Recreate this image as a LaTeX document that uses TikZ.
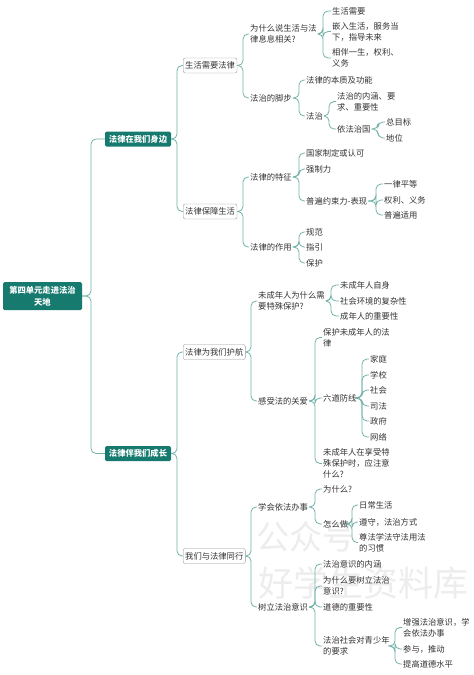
\documentclass[tikz,border=0pt]{standalone}
\usepackage{fontspec}
\setmainfont{Noto Sans CJK SC}
\usetikzlibrary{calc}
\definecolor{teal1}{HTML}{167A6F}
\definecolor{connc}{HTML}{72B2A9}
\definecolor{txt}{HTML}{333333}
\newcommand\lnk[3]{\draw[conn] let \p1=(#1.east) in (\p1) -- (#2pt,\y1) |- (#3.west);}
\begin{document}
\begin{tikzpicture}[x=1pt,y=-1pt,
  every node/.style={font=\fontsize{8.3}{11}\selectfont, text=txt},
  rootbox/.style={fill=teal1, text=white, font=\fontsize{8.3}{12}\selectfont\bfseries, rounded corners=1.5, align=center, minimum width=79, minimum height=28, inner sep=2},
  lone/.style={fill=teal1, text=white, font=\fontsize{8.3}{11}\selectfont\bfseries, rounded corners=1.5, minimum width=66, minimum height=15, inner sep=2},
  ltwo/.style={draw=black!40, fill=white, rounded corners=2, anchor=west, minimum height=15, inner sep=2},
  leaf/.style={anchor=west, inner sep=1, align=left},
  conn/.style={draw=connc, line width=0.8, rounded corners=5},
  wmark/.style={text=black!7, inner sep=0}]
\useasboundingbox (0,0) rectangle (474,675);
\fill[white] (0,0) rectangle (474,675);
% watermark
\node[wmark, font=\fontsize{33}{33}\selectfont] (wm1) at (306,537) {公众号};
\node[wmark, font=\fontsize{35}{35}\selectfont] (wm2) at (363,583) {好学生资料库};
% root and level 1
\node[rootbox] (root) at (42.5,296) {第四单元走进法治\\天地};
\node[lone] (a) at (138,139) {法律在我们身边};
\node[lone] (b) at (138,453.5) {法律伴我们成长};
% level 2
\node[ltwo] (a1) at (183,65.5) {生活需要法律};
\node[ltwo] (a2) at (183,211.5) {法律保障生活};
\node[ltwo] (b1) at (183,352) {法律为我们护航};
\node[ltwo] (b2) at (183,556) {我们与法律同行};
% under a1
\node[leaf] (a11) at (249,34) {为什么说生活与法\\律息息相关?};
\node[leaf] (a12) at (249,98) {法治的脚步};
\node[leaf] (a111) at (331,11) {生活需要};
\node[leaf] (a112) at (331,31.5) {嵌入生活，服务当\\下，指导未来};
\node[leaf] (a113) at (331,58) {相伴一生，权利、\\义务};
\node[leaf] (a121) at (305,80) {法律的本质及功能};
\node[leaf] (a122) at (305,116) {法治};
\node[leaf] (a1221) at (336,101.5) {法治的内涵、要\\求、重要性};
\node[leaf] (a1222) at (336,129) {依法治国};
\node[leaf] (a12221) at (385,122) {总目标};
\node[leaf] (a12222) at (385,138) {地位};
% under a2
\node[leaf] (a21) at (249,177) {法律的特征};
\node[leaf] (a22) at (249,247) {法律的作用};
\node[leaf] (a211) at (305,153) {国家制定或认可};
\node[leaf] (a212) at (305,169) {强制力};
\node[leaf] (a213) at (305,201) {普遍约束力-表现};
\node[leaf] (a2131) at (383,184) {一律平等};
\node[leaf] (a2132) at (383,200) {权利、义务};
\node[leaf] (a2133) at (383,215) {普遍适用};
\node[leaf] (a221) at (305,232) {规范};
\node[leaf] (a222) at (305,247) {指引};
\node[leaf] (a223) at (305,263) {保护};
% under b1
\node[leaf] (b11) at (257,301) {未成年人为什么需\\要特殊保护?};
\node[leaf] (b12) at (257,401) {感受法的关爱};
\node[leaf] (b111) at (339,285) {未成年人自身};
\node[leaf] (b112) at (339,301) {社会环境的复杂性};
\node[leaf] (b113) at (339,316) {成年人的重要性};
\node[leaf] (b121) at (322,337.5) {保护未成年人的法\\律};
\node[leaf] (b122) at (322,398) {六道防线};
\node[leaf] (b123) at (322,463.5) {未成年人在享受特\\殊保护时，应注意\\什么?};
\node[leaf] (b1221) at (369,359) {家庭};
\node[leaf] (b1222) at (369,375) {学校};
\node[leaf] (b1223) at (369,390) {社会};
\node[leaf] (b1224) at (369,406) {司法};
\node[leaf] (b1225) at (369,421) {政府};
\node[leaf] (b1226) at (369,437) {网络};
% under b2
\node[leaf] (b21) at (257,507) {学会依法办事};
\node[leaf] (b22) at (257,607) {树立法治意识};
\node[leaf] (b211) at (322,489) {为什么?};
\node[leaf] (b212) at (322,524) {怎么做};
\node[leaf] (b2121) at (358,505) {日常生活};
\node[leaf] (b2122) at (358,522) {遵守，法治方式};
\node[leaf] (b2123) at (358,542.5) {尊法学法守法用法\\的习惯};
\node[leaf] (b221) at (322,564) {法治意识的内涵};
\node[leaf] (b222) at (322,586) {为什么要树立法治\\意识?};
\node[leaf] (b223) at (322,607) {道德的重要性};
\node[leaf] (b224) at (322,646) {法治社会对青少年\\的要求};
\node[leaf] (b2241) at (402,627.5) {增强法治意识，学\\会依法办事};
\node[leaf] (b2242) at (402,649) {参与，推动};
\node[leaf] (b2243) at (402,664) {提高道德水平};
% connectors
\lnk{root}{91}{a} \lnk{root}{91}{b}
\lnk{a}{177}{a1} \lnk{a}{177}{a2}
\lnk{b}{177}{b1} \lnk{b}{177}{b2}
\lnk{a1}{243}{a11} \lnk{a1}{243}{a12}
\lnk{a11}{323}{a111} \lnk{a11}{323}{a112} \lnk{a11}{323}{a113}
\lnk{a12}{299}{a121} \lnk{a12}{299}{a122}
\lnk{a122}{329}{a1221} \lnk{a122}{329}{a1222}
\lnk{a1222}{378}{a12221} \lnk{a1222}{378}{a12222}
\lnk{a2}{243}{a21} \lnk{a2}{243}{a22}
\lnk{a21}{299}{a211} \lnk{a21}{299}{a212} \lnk{a21}{299}{a213}
\lnk{a213}{376}{a2131} \lnk{a213}{376}{a2132} \lnk{a213}{376}{a2133}
\lnk{a22}{299}{a221} \lnk{a22}{299}{a222} \lnk{a22}{299}{a223}
\lnk{b1}{251}{b11} \lnk{b1}{251}{b12}
\lnk{b11}{331}{b111} \lnk{b11}{331}{b112} \lnk{b11}{331}{b113}
\lnk{b12}{315}{b121} \lnk{b12}{315}{b122} \lnk{b12}{315}{b123}
\lnk{b122}{362}{b1221} \lnk{b122}{362}{b1222} \lnk{b122}{362}{b1223}
\lnk{b122}{362}{b1224} \lnk{b122}{362}{b1225} \lnk{b122}{362}{b1226}
\lnk{b2}{251}{b21} \lnk{b2}{251}{b22}
\lnk{b21}{315}{b211} \lnk{b21}{315}{b212}
\lnk{b212}{352}{b2121} \lnk{b212}{352}{b2122} \lnk{b212}{352}{b2123}
\lnk{b22}{315}{b221} \lnk{b22}{315}{b222} \lnk{b22}{315}{b223} \lnk{b22}{315}{b224}
\lnk{b224}{395}{b2241} \lnk{b224}{395}{b2242} \lnk{b224}{395}{b2243}
\end{tikzpicture}
\end{document}
